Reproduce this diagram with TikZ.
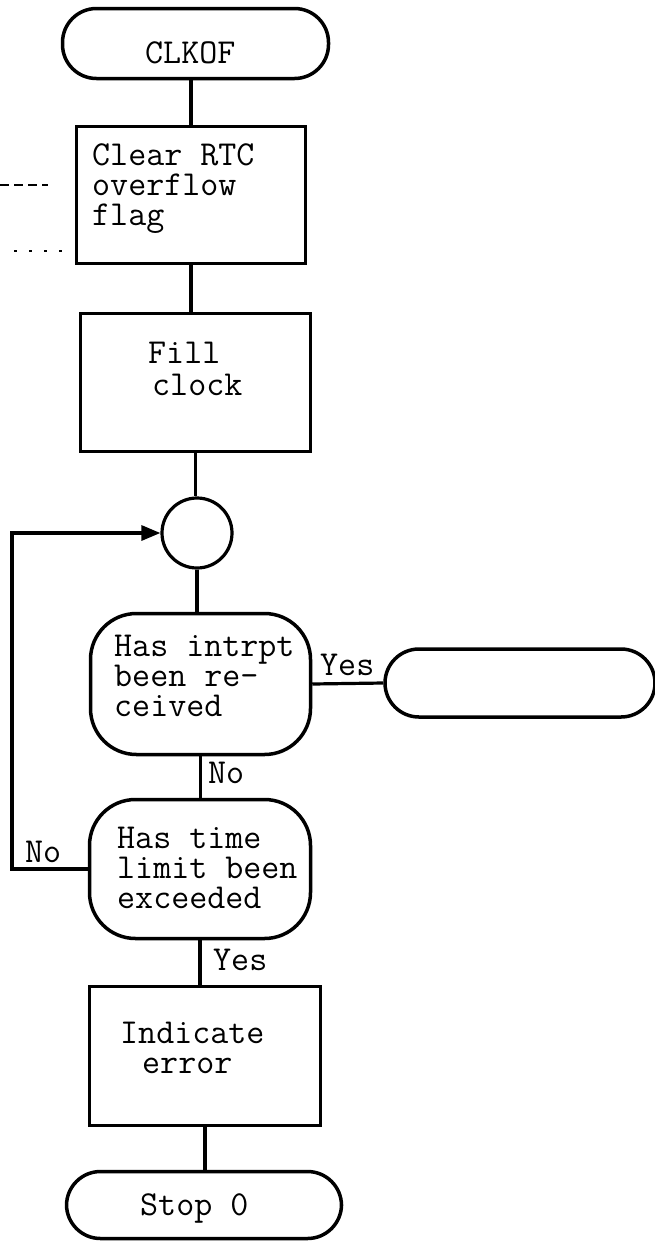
\documentclass[tikz,border=0pt]{standalone}
\usetikzlibrary{arrows.meta}
\begin{document}
\begin{tikzpicture}[x=1pt,y=-1pt,
  term/.style={draw, line width=3.5pt, rounded corners=34pt, inner sep=0pt},
  proc/.style={draw, line width=3.5pt, inner sep=0pt},
  dec/.style={draw, line width=3.5pt, rounded corners=46pt, inner sep=0pt},
  conn/.style={draw, line width=3.2pt, circle, inner sep=0pt, minimum size=70pt},
  txt/.style={font=\ttfamily\fontsize{35}{30}\selectfont, inner sep=0pt, align=left, anchor=base west},
  link/.style={line width=3.2pt},
  noise/.style={line width=1.5pt, dash pattern=on 9pt off 5pt}
]
\useasboundingbox (0,0) rectangle (655,1243);

% shapes
\node[term, minimum width=266pt, minimum height=70pt] (start) at (195.5,43.5) {};
\node[proc, minimum width=229pt, minimum height=137pt] (clr) at (191,195) {};
\node[proc, minimum width=230pt, minimum height=138pt] (fill) at (195.5,382.5) {};
\node[conn] (circ) at (197,533) {};
\node[dec, minimum width=220pt, minimum height=141pt] (dec1) at (200.5,684) {};
\node[term, minimum width=270pt, minimum height=68pt] (endR) at (520,683) {};
\node[dec, minimum width=221pt, minimum height=139pt] (dec2) at (200,869) {};
\node[proc, minimum width=231pt, minimum height=139pt] (err) at (205,1056) {};
\node[term, minimum width=275pt, minimum height=67pt] (stop) at (204,1205) {};

% texts (base = baseline of the last line)
\node[txt] (tstart) at (145,63) {CLKOF};
\node[txt] (tclr) at (92,225) {Clear RTC\\overflow\\flag};
\node[txt] (tfill) at (148,395) {Fill\\[2pt]\hspace*{4pt}clock};
\node[txt] (tdec1) at (114,716) {Has intrpt\\been re-\\ceived};
\node[txt] (tdec2) at (117,908) {Has time\\limit been\\exceeded};
\node[txt] (terr) at (120,1073) {Indicate\\\hspace*{22pt}error};
\node[txt] (tstop) at (140,1215) {Stop 0};

% labels
\node[txt] (lyes1) at (320,675) {Yes};
\node[txt] (lno1) at (208,783) {No};
\node[txt] (lno2) at (25,862) {No};
\node[txt] (lyes2) at (213,970) {Yes};

% connectors
\draw[link] (clr.north |- start.south) -- (clr.north);
\draw[link] (clr.south) -- (clr.south |- fill.north);
\draw[link] (fill.south) -- (fill.south |- circ.north);
\draw[link] (circ.south) -- (circ.south |- dec1.north);
\draw[link] (dec1.east) -- (endR.west);
\draw[link] (dec1.south) -- (dec1.south |- dec2.north);
\coordinate (lp) at (12,0);
\draw[link, -{Triangle[length=19pt,width=15pt]}] (dec2.west) -- (dec2.west -| lp) |- (circ.west);
\draw[link] (dec2.south) -- (dec2.south |- err.north);
\draw[link] (err.south) -- (err.south |- stop.north);

% faint leader fragments at the left
\coordinate (n1) at (0,185);
\coordinate (n2) at (48,185);
\draw[noise] (n1) -- (n2);
\coordinate (n3) at (14,251);
\coordinate (n4) at (64,251);
\draw[line width=1.5pt, dash pattern=on 3pt off 12pt] (n3) -- (n4);
\end{tikzpicture}
\end{document}
